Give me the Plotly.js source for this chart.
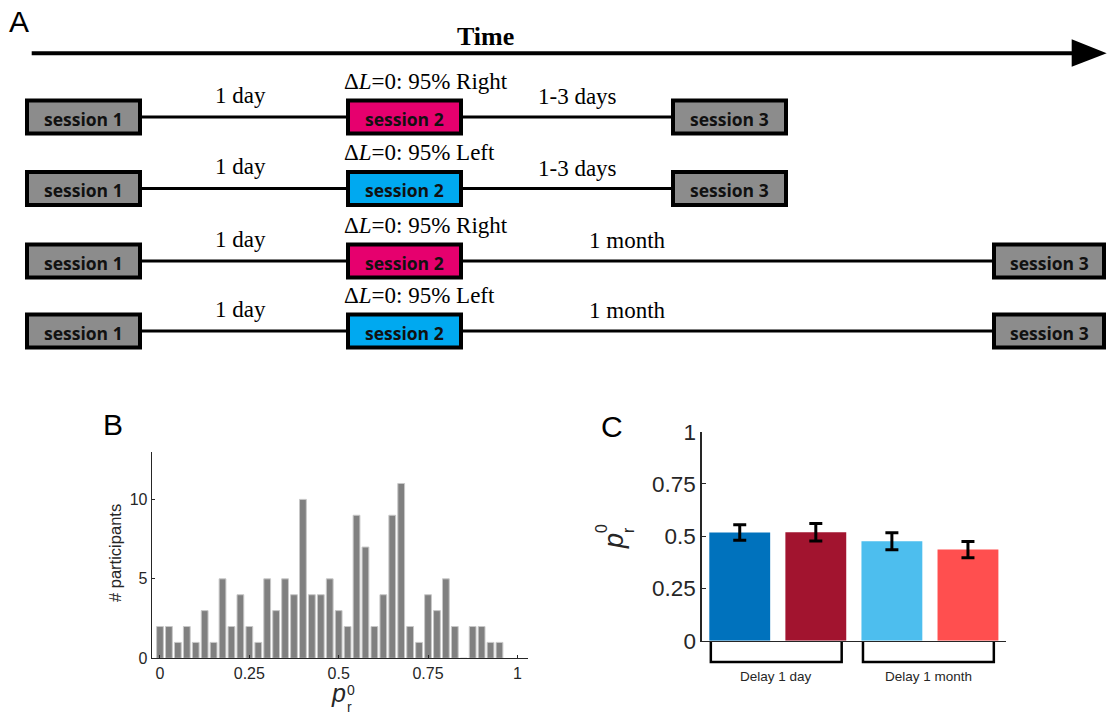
<!DOCTYPE html>
<html>
<head>
<meta charset="utf-8">
<script src="https://cdn.plot.ly/plotly-3.0.1.min.js"></script>
<style>html,body{margin:0;padding:0;background:#fff;}#chart{width:1108px;height:717px;}</style>
</head>
<body>
<div id="chart"></div>
<script>
// ---------------- DATA ----------------
// Panel A: experimental timeline
const sessionNames = ['session 1', 'session 2', 'session 3'];
const firstDelay = ['1 day', '1 day', '1 day', '1 day'];
const session2Bias = ['Right', 'Left', 'Right', 'Left'];
const secondDelay = ['1-3 days', '1-3 days', '1 month', '1 month'];

// Panel B: histogram of p_r^0 (bin centres and counts)
const binCenters = [0, 0.025, 0.05, 0.075, 0.1, 0.125, 0.15, 0.175, 0.2, 0.225,
                    0.25, 0.275, 0.3, 0.325, 0.35, 0.375, 0.4, 0.425, 0.45, 0.475,
                    0.5, 0.525, 0.55, 0.575, 0.6, 0.625, 0.65, 0.675, 0.7, 0.725,
                    0.75, 0.775, 0.8, 0.825, 0.85, 0.875, 0.9, 0.925, 0.95];
const counts = [2, 2, 1, 2, 1, 3, 1, 5, 2, 4,
                2, 1, 5, 3, 5, 4, 10, 4, 4, 5,
                3, 2, 9, 7, 2, 4, 9, 11, 2, 1,
                4, 3, 5, 2, 0, 2, 2, 1, 1];
const histXTicks = [0, 0.25, 0.5, 0.75, 1];
const histXTickText = ['0', '0.25', '0.5', '0.75', '1'];
const histYTicks = [0, 5, 10];

// Panel C: mean p_r^0 per condition with error bars
const conditions = ['1 day, Left', '1 day, Right', '1 month, Left', '1 month, Right'];
const meanP = [0.518, 0.519, 0.476, 0.436];
const errP = [0.037, 0.042, 0.041, 0.039];
const condColors = ['#0072BD', '#A2142F', '#4DBEEE', '#FF4F4F'];
const groupLabels = ['Delay 1 day', 'Delay 1 month'];
const groupMembers = [[0, 1], [2, 3]];
const cTicks = [0, 0.25, 0.5, 0.75, 1];
const cTickText = ['0', '0.25', '0.5', '0.75', '1'];

// ---------------- LAYOUT HELPERS ----------------
const W = 1108, H = 717;
const px = x => x / W;
const py = y => 1 - y / H;
const axisColor = '#262626';
const sans = 'Liberation Sans, Arial, Helvetica, sans-serif';
const serif = 'Liberation Serif, Times New Roman, serif';

const shapes = [];
const annotations = [];

function ann(x, y, text, size, opts) {
  annotations.push(Object.assign({
    xref: 'paper', yref: 'paper', x: px(x), y: py(y), text: text,
    showarrow: false, xanchor: 'center', yanchor: 'middle',
    font: {family: sans, size: size, color: '#000'}
  }, opts || {}));
}

// ---------------- PANEL A ----------------
const rowY = [117, 188.5, 261, 331];
const boxHalfH = 18.5;
const box1 = [25, 142];
const box2 = [346, 463];
const box3ByDelay = {'1-3 days': [671, 788], '1 month': [992, 1106]};
const gapLabelX = {'1-3 days': 577, '1 month': 627};
const biasColor = {Right: '#E6006E', Left: '#00A9F0'};
const grayFill = '#8C8C8C';

// Time arrow
shapes.push({type: 'line', xref: 'paper', yref: 'paper',
  x0: px(31.7), x1: px(1073), y0: py(53.3), y1: py(53.3),
  line: {color: '#000', width: 4}});
shapes.push({type: 'path', xref: 'paper', yref: 'paper',
  path: `M ${px(1071.7)} ${py(39.3)} L ${px(1106.7)} ${py(53.3)} L ${px(1071.7)} ${py(66.7)} Z`,
  fillcolor: '#000', line: {color: '#000', width: 0}});
ann(485, 36.5, '<b>Time</b>', 26, {font: {family: serif, size: 26, color: '#000'}});

function box(xr, yc, fill) {
  shapes.push({type: 'rect', xref: 'paper', yref: 'paper',
    x0: px(xr[0] + 2), x1: px(xr[1] - 2),
    y0: py(yc - boxHalfH + 2), y1: py(yc + boxHalfH - 2),
    fillcolor: fill, line: {color: '#000', width: 4}, layer: 'above'});
}
function hline(x0, x1, y) {
  shapes.push({type: 'line', xref: 'paper', yref: 'paper',
    x0: px(x0), x1: px(x1), y0: py(y), y1: py(y),
    line: {color: '#000', width: 3}});
}
const sessFont = {family: 'Open Sans, DejaVu Sans, sans-serif', size: 17.5, color: '#111'};

rowY.forEach((yc, r) => {
  const b3 = box3ByDelay[secondDelay[r]];
  hline(box1[1], box2[0], yc);
  hline(box2[1], b3[0], yc);
  box(box1, yc, grayFill);
  box(box2, yc, biasColor[session2Bias[r]]);
  box(b3, yc, grayFill);
  const boxes = [box1, box2, b3];
  boxes.forEach((b, i) => {
    ann((b[0] + b[1]) / 2, yc + 1.5, '<b>' + sessionNames[i] + '</b>', 17.5, {font: sessFont});
  });
  ann(240, yc - 21.7, firstDelay[r], 23, {font: {family: serif, size: 23, color: '#000'}});
  ann(342, yc - 35.7, 'Δ<i>L</i>=0: 95% ' + session2Bias[r], 23,
      {xanchor: 'left', font: {family: serif, size: 23, color: '#000'}});
  ann(gapLabelX[secondDelay[r]], yc - 20.3, secondDelay[r], 23,
      {font: {family: serif, size: 23, color: '#000'}});
});

// Panel letters
ann(19, 21, 'A', 30);
ann(112.5, 424, 'B', 30);
ann(612, 426, 'C', 30);

// ---------------- PANEL B labels ----------------
ann(115, 553, '# participants', 16.5, {textangle: -90, font: {family: sans, size: 16.5, color: axisColor}});
ann(338, 693, '<i>p</i>', 25, {font: {family: sans, size: 25, color: axisColor}});
ann(350.5, 689.5, '0', 14, {font: {family: sans, size: 14, color: axisColor}});
ann(349.5, 706.5, 'r', 14, {font: {family: sans, size: 14, color: axisColor}});

// ---------------- PANEL C labels ----------------
ann(614, 541, '<i>p</i>', 27, {textangle: -90, font: {family: sans, size: 27, color: axisColor}});
ann(601.2, 528.7, '0', 16, {textangle: -90, font: {family: sans, size: 16, color: axisColor}});
ann(628, 530, 'r', 16, {textangle: -90, font: {family: sans, size: 16, color: axisColor}});

// Group brackets under panel C (x in category units of x2)
const bracketPad = [0.38, 0.34];
groupMembers.forEach((m, g) => {
  const xa = m[0] - bracketPad[0], xb = m[m.length - 1] + bracketPad[1];
  shapes.push({type: 'path', xref: 'x2', yref: 'paper',
    path: `M ${xa} ${py(642)} L ${xa} ${py(662)} L ${xb} ${py(662)} L ${xb} ${py(642)}`,
    line: {color: '#000', width: 2.5}});
  annotations.push({xref: 'x2', yref: 'paper', x: (xa + xb) / 2, y: py(676),
    text: groupLabels[g], showarrow: false, xanchor: 'center', yanchor: 'middle',
    font: {family: sans, size: 13.5, color: axisColor}});
});

// ---------------- TRACES ----------------
const traces = [
  {type: 'bar', x: binCenters, y: counts, xaxis: 'x', yaxis: 'y',
   width: 0.019,
   marker: {color: '#808080', line: {color: '#c8c8c8', width: 1}},
   hoverinfo: 'x+y'},
  {type: 'bar', x: conditions, y: meanP, xaxis: 'x2', yaxis: 'y2',
   width: 0.8,
   marker: {color: condColors, line: {width: 0}},
   error_y: {type: 'data', array: errP, visible: true, color: '#000', thickness: 3, width: 6.5}}
];

const layout = {
  width: W, height: H,
  margin: {l: 0, r: 0, t: 0, b: 0},
  paper_bgcolor: '#fff', plot_bgcolor: 'rgba(0,0,0,0)',
  showlegend: false,
  font: {family: sans, color: axisColor},
  xaxis: {domain: [px(151.7), px(527.7)], anchor: 'y', range: [-0.0232, 1.029],
    tickvals: histXTicks, ticktext: histXTickText, ticks: 'inside', ticklen: 3,
    tickcolor: axisColor, showline: true, linecolor: axisColor, linewidth: 1,
    showgrid: false, zeroline: false, tickfont: {size: 16, color: axisColor}},
  yaxis: {domain: [py(658.3), py(451.7)], anchor: 'x', range: [0, 13],
    tickvals: histYTicks, ticks: 'inside', ticklen: 3, tickcolor: axisColor,
    showline: true, linecolor: axisColor, linewidth: 1,
    showgrid: false, zeroline: false, tickfont: {size: 16, color: axisColor}},
  xaxis2: {domain: [px(701.7), px(1006)], anchor: 'y2', type: 'category',
    range: [-0.5, 3.5], showticklabels: false, ticks: '', showline: true,
    linecolor: axisColor, linewidth: 1.3, showgrid: false, zeroline: false},
  yaxis2: {domain: [py(640.7), py(431.7)], anchor: 'x2', range: [0, 1],
    tickvals: cTicks, ticktext: cTickText, ticks: 'inside', ticklen: 4,
    tickcolor: axisColor, showline: true, linecolor: axisColor, linewidth: 1.3,
    showgrid: false, zeroline: false, tickfont: {size: 22.5, color: axisColor}},
  shapes: shapes,
  annotations: annotations
};

Plotly.newPlot('chart', traces, layout, {displayModeBar: false, staticPlot: true});
</script>
</body>
</html>
